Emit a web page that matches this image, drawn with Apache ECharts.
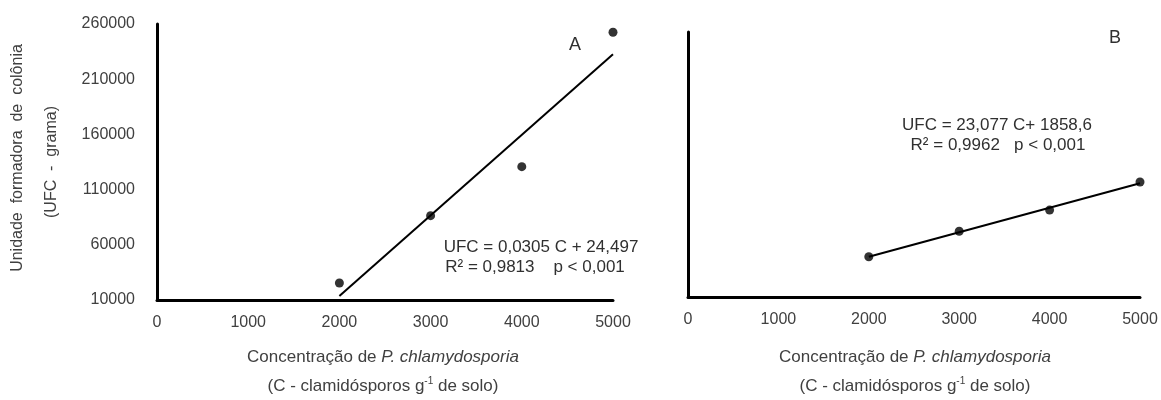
<!DOCTYPE html>
<html>
<head>
<meta charset="utf-8">
<script src="https://cdn.jsdelivr.net/npm/echarts@6/dist/echarts.min.js"></script>
<style>
  html, body { margin: 0; padding: 0; background: #fff; }
  #chart { width: 1161px; height: 400px; }
</style>
</head>
<body>
<div id="chart"></div>
<script>
// dados
const concentracao = [2000, 3000, 4000, 5000];
const ufcA = [25400, 86400, 130800, 252500];
const ufcB = [48000, 72000, 92000, 118500];
const trendX = [2000, 5000];
const trendA = [13600, 232500];
const trendB = [48000, 117300];
const xTicks = [0, 1000, 2000, 3000, 4000, 5000];
const yTicks = [10000, 60000, 110000, 160000, 210000, 260000];

const FONT = "'Liberation Sans', Arial, sans-serif";
const TXT = "#404040";

const pairs = (xs, ys) => xs.map((x, i) => [x, ys[i]]);

function xAxisCfg(gridIndex) {
  return {
    type: "value",
    gridIndex: gridIndex,
    min: xTicks[0],
    max: xTicks[xTicks.length - 1],
    interval: xTicks[1] - xTicks[0],
    axisLine: { show: true, onZero: false, lineStyle: { color: "#000", width: 3 } },
    axisTick: { show: false },
    splitLine: { show: false },
    axisLabel: { color: TXT, fontSize: 16, fontFamily: FONT, margin: 15, formatter: v => String(v) }
  };
}

function yAxisCfg(gridIndex, showLabels) {
  return {
    type: "value",
    gridIndex: gridIndex,
    min: yTicks[0],
    max: yTicks[yTicks.length - 1],
    interval: yTicks[1] - yTicks[0],
    axisLine: { show: true, onZero: false, lineStyle: { color: "#000", width: 3 } },
    axisTick: { show: false },
    splitLine: { show: false },
    axisLabel: { show: showLabels, color: TXT, fontSize: 16, fontFamily: FONT, margin: 22,
      formatter: v => String(v) }
  };
}

function titleText(x) {
  return [
    {
      type: "text", x: x, y: 357,
      style: {
        text: "{n|Concentração de }{i|P. chlamydosporia}",
        textAlign: "center", textVerticalAlign: "middle",
        rich: {
          n: { fontSize: 17, fontFamily: FONT, fill: TXT },
          i: { fontSize: 17, fontFamily: FONT, fill: TXT, fontStyle: "italic" }
        }
      }
    },
    {
      type: "text", x: x, y: 386,
      style: {
        text: "{n|(C - clamidósporos g}{s|-1}{n| de solo)}",
        textAlign: "center", textVerticalAlign: "middle",
        rich: {
          n: { fontSize: 17, fontFamily: FONT, fill: TXT },
          s: { fontSize: 10, fontFamily: FONT, fill: TXT, padding: [0, 0, 9, 0] }
        }
      }
    }
  ];
}

const chart = echarts.init(document.getElementById("chart"));
chart.setOption({
  backgroundColor: "#fff",
  animation: false,
  grid: [
    { left: 157, top: 24, right: 548, bottom: 100 },
    { left: 688, top: 32, right: 21, bottom: 103 }
  ],
  xAxis: [xAxisCfg(0), xAxisCfg(1)],
  yAxis: [yAxisCfg(0, true), yAxisCfg(1, false)],
  series: [
    {
      type: "line", xAxisIndex: 0, yAxisIndex: 0,
      data: pairs(trendX, trendA), symbol: "none",
      lineStyle: { color: "#000", width: 2 }
    },
    {
      type: "scatter", xAxisIndex: 0, yAxisIndex: 0,
      data: pairs(concentracao, ufcA), symbolSize: 9,
      itemStyle: { color: "#000" }
    },
    {
      type: "line", xAxisIndex: 1, yAxisIndex: 1,
      data: pairs(trendX, trendB), symbol: "none",
      lineStyle: { color: "#000", width: 2 }
    },
    {
      type: "scatter", xAxisIndex: 1, yAxisIndex: 1,
      data: pairs(concentracao, ufcB), symbolSize: 9,
      itemStyle: { color: "#000" }
    }
  ],
  graphic: [
    {
      type: "text", x: 18, y: 158, rotation: Math.PI / 2,
      style: { text: "Unidade  formadora  de  colônia", textAlign: "center", textVerticalAlign: "middle",
        fontSize: 16, fontFamily: FONT, fill: TXT }
    },
    {
      type: "text", x: 52, y: 162, rotation: Math.PI / 2,
      style: { text: "(UFC  -  grama)", textAlign: "center", textVerticalAlign: "middle",
        fontSize: 16, fontFamily: FONT, fill: TXT }
    },
    {
      type: "text", x: 575, y: 45,
      style: { text: "A", textAlign: "center", textVerticalAlign: "middle",
        fontSize: 18, fontFamily: FONT, fill: "#303030" }
    },
    {
      type: "text", x: 1115, y: 38,
      style: { text: "B", textAlign: "center", textVerticalAlign: "middle",
        fontSize: 18, fontFamily: FONT, fill: "#303030" }
    },
    {
      type: "text", x: 541, y: 247,
      style: { text: "UFC = 0,0305 C + 24,497", textAlign: "center", textVerticalAlign: "middle",
        fontSize: 17, fontFamily: FONT, fill: "#303030" }
    },
    {
      type: "text", x: 535, y: 267,
      style: { text: "R² = 0,9813    p < 0,001", textAlign: "center", textVerticalAlign: "middle",
        fontSize: 17, fontFamily: FONT, fill: "#303030" }
    },
    {
      type: "text", x: 997, y: 125,
      style: { text: "UFC = 23,077 C+ 1858,6", textAlign: "center", textVerticalAlign: "middle",
        fontSize: 17, fontFamily: FONT, fill: "#303030" }
    },
    {
      type: "text", x: 998, y: 145,
      style: { text: "R² = 0,9962   p < 0,001", textAlign: "center", textVerticalAlign: "middle",
        fontSize: 17, fontFamily: FONT, fill: "#303030" }
    }
  ].concat(titleText(383), titleText(915))
});
</script>
</body>
</html>
